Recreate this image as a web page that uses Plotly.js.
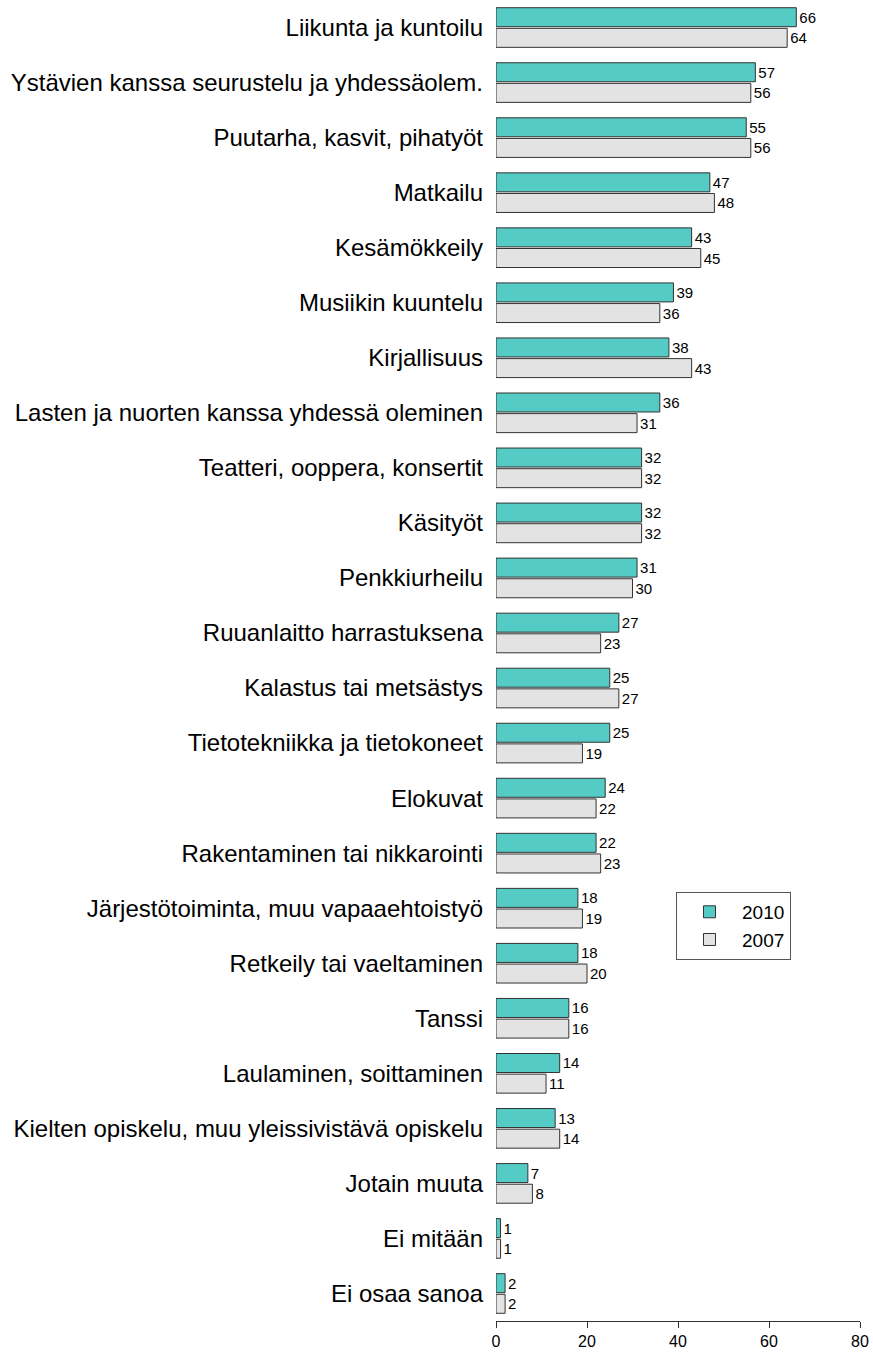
<!DOCTYPE html>
<html>
<head>
<meta charset="utf-8">
<script src="https://cdn.plot.ly/plotly-3.0.1.min.js"></script>
<style>html,body{margin:0;padding:0;background:#fff;}#chart{width:873px;height:1353px;}</style>
</head>
<body>
<div id="chart"></div>
<script>
const categories = [
  "Liikunta ja kuntoilu",
  "Ystävien kanssa seurustelu ja yhdessäolem.",
  "Puutarha, kasvit, pihatyöt",
  "Matkailu",
  "Kesämökkeily",
  "Musiikin kuuntelu",
  "Kirjallisuus",
  "Lasten ja nuorten kanssa yhdessä oleminen",
  "Teatteri, ooppera, konsertit",
  "Käsityöt",
  "Penkkiurheilu",
  "Ruuanlaitto harrastuksena",
  "Kalastus tai metsästys",
  "Tietotekniikka ja tietokoneet",
  "Elokuvat",
  "Rakentaminen tai nikkarointi",
  "Järjestötoiminta, muu vapaaehtoistyö",
  "Retkeily tai vaeltaminen",
  "Tanssi",
  "Laulaminen, soittaminen",
  "Kielten opiskelu, muu yleissivistävä opiskelu",
  "Jotain muuta",
  "Ei mitään",
  "Ei osaa sanoa"
];
const values2010 = [66,57,55,47,43,39,38,36,32,32,31,27,25,25,24,22,18,18,16,14,13,7,1,2];
const values2007 = [64,56,56,48,45,36,43,31,32,32,30,23,27,19,22,23,19,20,16,11,14,8,1,2];
const seriesNames = ["2010","2007"];
const xTicks = [0,20,40,60,80];

const FONT = "'Liberation Sans', Arial, sans-serif";

function barTrace(name, vals, color) {
  return {
    type: "bar",
    orientation: "h",
    name: name,
    y: categories,
    x: vals,
    text: vals.map(String),
    textposition: "outside",
    constraintext: "none",
    cliponaxis: false,
    textfont: {family: FONT, size: 15, color: "#000"},
    marker: {color: color, line: {color: "#333333", width: 1}},
    hoverinfo: "x+y+name"
  };
}

const data = [
  barTrace(seriesNames[0], values2010, "#55CBC5"),
  barTrace(seriesNames[1], values2007, "#E3E3E3")
];

const layout = {
  width: 873,
  height: 1353,
  margin: {l: 496, r: 13, t: 0, b: 32, pad: 0},
  paper_bgcolor: "#ffffff",
  plot_bgcolor: "#ffffff",
  font: {family: FONT, color: "#000"},
  barmode: "group",
  bargap: 0.25,
  bargroupgap: 0.08,
  showlegend: true,
  legend: {
    x: 0.4945, y: 0.3248, xanchor: "left", yanchor: "top",
    bordercolor: "#555555", borderwidth: 1,
    bgcolor: "#ffffff",
    font: {family: FONT, size: 19, color: "#000"},
    itemwidth: 55,
    entrywidth: 128,
    entrywidthmode: "pixels",
    tracegroupgap: 0
  },
  xaxis: {
    range: [0, 80],
    tickvals: xTicks,
    ticktext: xTicks.map(String),
    showgrid: false,
    zeroline: false,
    showline: true,
    linecolor: "#333333",
    linewidth: 1,
    ticks: "outside",
    ticklen: 6,
    tickcolor: "#333333",
    ticklabelstandoff: 0,
    tickfont: {family: FONT, size: 16, color: "#000"},
    fixedrange: true
  },
  yaxis: {
    type: "category",
    range: [categories.length - 0.5, -0.5],
    showgrid: false,
    zeroline: false,
    showline: false,
    ticks: "",
    ticklabelstandoff: 12,
    tickfont: {family: FONT, size: 24, color: "#000"},
    automargin: false,
    fixedrange: true
  }
};

Plotly.newPlot("chart", data, layout, {displayModeBar: false, staticPlot: true});
</script>
</body>
</html>
